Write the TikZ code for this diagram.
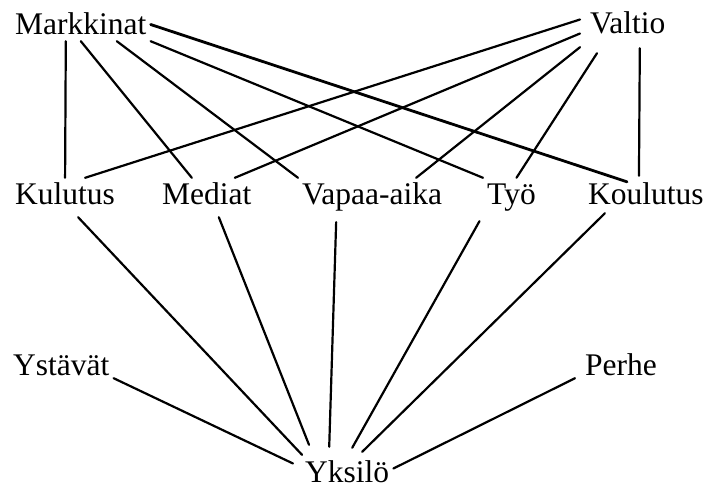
\documentclass[tikz,border=0pt]{standalone}
\usepackage{fontspec}
\setmainfont{Liberation Serif}

\begin{document}
\begin{tikzpicture}[x=1pt,y=1pt]
\tikzstyle{every node}+=[inner xsep=4pt,inner ysep=6pt,anchor=base west,
  text height=21pt,text depth=0pt,font=\fontsize{31.5}{36}\selectfont]
\useasboundingbox (0,0) rectangle (704,-489);
% top row
\node (mark) at (11,-35) {Markkinat};
\node (valt) at (586,-34) {Valtio};
% middle row
\node (kul) at (11,-205) {Kulutus};
\node (med) at (158,-205) {Mediat};
\node (vap) at (298,-205) {Vapaa-aika};
\node (tyo) at (483,-205) {Työ};
\node (koul) at (584,-205) {Koulutus};
% bottom
\node (ysta) at (9,-375) {Ystävät};
\node (perhe) at (581,-375) {Perhe};
\node (yks) at (301,-482) {Yksilö};
\begin{scope}[line width=2.2pt,line cap=round]
\draw [black] ([xshift=-15pt]mark.south) -- (kul.north);
\draw [black] (mark.south) -- ([xshift=-15pt]med.north);
\draw [black] ([xshift=36pt]mark.south) -- (vap.north west);
\draw [black] (mark.south east) -- (tyo.north west);
\draw [black,line width=2.8pt] (mark.east) -- ([xshift=-19pt,yshift=-4pt]koul.north);
\draw [black] ([xshift=-6pt,yshift=4pt]valt.west) -- ([xshift=20pt]kul.north);
\draw [black] ([xshift=-6pt,yshift=-10pt]valt.west) -- ([xshift=28pt]med.north);
\draw [black] ([xshift=-6pt,yshift=-7pt]valt.south west) -- ([xshift=44pt]vap.north);
\draw [black] ([xshift=11pt,yshift=-13pt]valt.south west) -- ([xshift=5pt]tyo.north);
\draw [black] ([xshift=12pt,yshift=-8pt]valt.south) -- ([xshift=-7pt,yshift=2pt]koul.north);
\draw [black] ([xshift=13pt,yshift=-6pt]kul.south) -- ([xshift=1pt]yks.north west);
\draw [black] ([xshift=12pt,yshift=-6pt]med.south) -- ([xshift=8pt,yshift=10pt]yks.north west);
\draw [black] ([xshift=-36pt,yshift=-11pt]vap.south) -- ([xshift=-18pt,yshift=8pt]yks.north);
\draw [black] ([xshift=-32pt,yshift=-10pt]tyo.south) -- ([xshift=5pt,yshift=7pt]yks.north);
\draw [black] ([xshift=-41pt,yshift=-2pt]koul.south) -- ([xshift=15pt,yshift=3pt]yks.north);
\draw [black] ([yshift=3pt]ysta.south east) -- ([xshift=-8pt,yshift=8pt]yks.west);
\draw [black] ([xshift=-6pt,yshift=3pt]perhe.south west) -- ([yshift=3pt]yks.east);
\end{scope}
\end{tikzpicture}
\end{document}
